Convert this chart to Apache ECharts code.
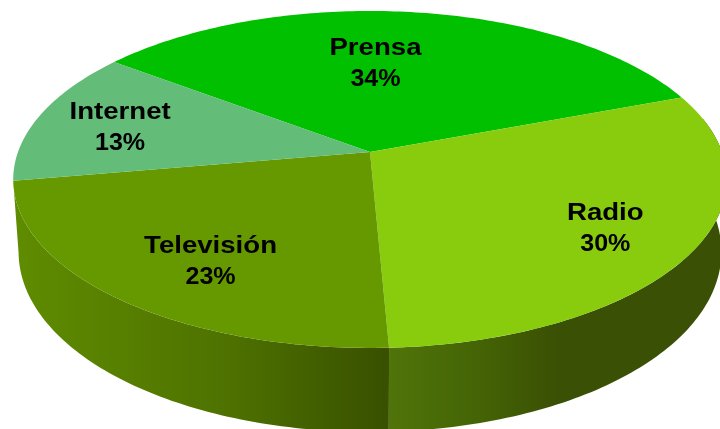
<!DOCTYPE html>
<html>
<head>
<meta charset="utf-8">
<style>html,body{margin:0;padding:0;background:#fff}#c{width:720px;height:429px}</style>
<script src="https://cdn.jsdelivr.net/npm/echarts@6/dist/echarts.min.js"></script>
</head>
<body>
<div id="c"></div>
<script>
const categories = ['Prensa', 'Radio', 'Televisión', 'Internet'];
const shares = [34, 30, 23, 13];

// Styling and layout, kept apart from the data
const topColors = ['#00c000', '#89cc0d', '#669900', '#63bc78'];
const wallStops = [null,
  [[0, '#50740a'], [0.25, '#456505'], [0.5, '#3a5004'], [1, '#3a5004']],
  [[0, '#5f8c00'], [0.55, '#4f7300'], [1, '#385000']],
  null];
const labelRadius = [0.6, 0.75, 0.7, 0.75];
const labelNudge = [[-22, 1], [-1, 5], [10, 12], [-0.5, 4]];
const startAngle = -143;
const persp = -0.163, cx = 370, cy = 152, rx = 352, ry = 164;

const rad = d => d * Math.PI / 180;
function project(deg, r) {
  const u = r * Math.cos(rad(deg)), v = r * Math.sin(rad(deg));
  const w = 1 + persp * v;
  return [cx + rx * u / w, cy + ry * v / w];
}
function lower(deg) {
  const p = project(deg, 1);
  return [cx + (p[0] - cx) * 0.985, p[1] + 70 + 14 * Math.sin(rad(deg))];
}
const total = shares.reduce((a, b) => a + b, 0);
function arc(a, b, fn) {
  const pts = [], n = Math.max(2, Math.ceil(Math.abs(b - a)));
  for (let i = 0; i <= n; i++) pts.push(fn(a + (b - a) * i / n));
  return pts;
}
function labelText(x, y, text, sx) {
  return {
    type: 'text', z2: 3, x: x, y: y, scaleX: sx,
    style: {
      text: text, fill: '#000', align: 'center', verticalAlign: 'middle',
      font: 'bold 23px "Liberation Sans", Arial, sans-serif'
    }
  };
}
function renderSlice(params, api) {
  const i = params.dataIndex;
  let acc = 0;
  for (let k = 0; k < i; k++) acc += shares[k];
  const a0 = startAngle + acc / total * 360;
  const a1 = a0 + api.value(0) / total * 360;
  const mid = (a0 + a1) / 2;
  const children = [];
  // Visible side wall: only the near half of the rim
  const wa0 = Math.max(a0, -12), wa1 = Math.min(a1, 181);
  if (wa1 > wa0 && wallStops[i]) {
    const pts = arc(wa0, wa1, d => project(d, 1)).concat(arc(wa1, wa0, lower));
    children.push({
      type: 'polygon', z2: 1,
      shape: { points: pts },
      style: {
        fill: { type: 'linear', x: 0, y: 0, x2: 1, y2: 0,
          colorStops: wallStops[i].map(s => ({ offset: s[0], color: s[1] })) }
      }
    });
  }
  // Top face
  children.push({
    type: 'polygon', z2: 2,
    shape: { points: [project(0, 0)].concat(arc(a0, a1, d => project(d, 1))) },
    style: { fill: topColors[i] }
  });
  const p = project(mid, labelRadius[i]);
  const lx = p[0] + labelNudge[i][0], ly = p[1] + labelNudge[i][1];
  children.push(labelText(lx, ly - 15.5, String(api.value(1)), 1.2));
  children.push(labelText(lx, ly + 15.5, api.value(0) + '%', 1.09));
  return { type: 'group', children };
}
const chart = echarts.init(document.getElementById('c'), null, { renderer: 'canvas' });
chart.setOption({
  animation: false,
  backgroundColor: '#ffffff',
  series: [{
    type: 'custom',
    coordinateSystem: 'none',
    renderItem: renderSlice,
    dimensions: [{ name: 'share', type: 'number' }, { name: 'medium', type: 'ordinal' }],
    data: shares.map((v, i) => [v, categories[i]])
  }]
});
</script>
</body>
</html>
